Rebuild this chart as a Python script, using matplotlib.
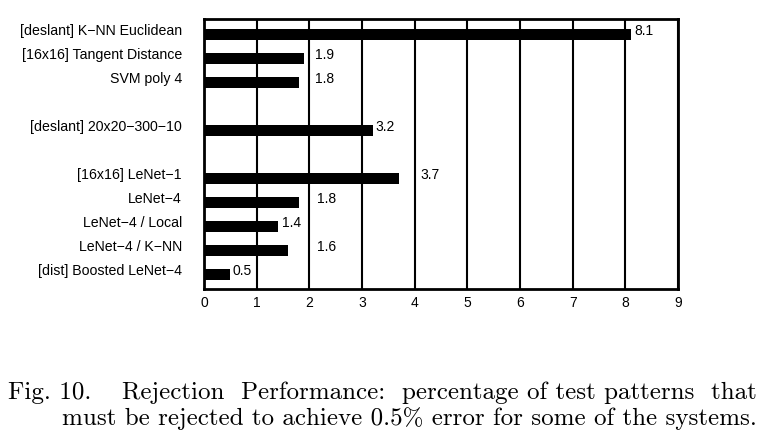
import matplotlib
matplotlib.use('Agg')
import matplotlib.pyplot as plt
import numpy as np

# Data
systems = ['[deslant] K\u2212NN Euclidean', '[16x16] Tangent Distance', 'SVM poly 4',
           '[deslant] 20x20\u2212300\u221210',
           '[16x16] LeNet\u22121', 'LeNet\u22124', 'LeNet\u22124 / Local',
           'LeNet\u22124 / K\u2212NN', '[dist] Boosted LeNet\u22124']
rejection = [8.1, 1.9, 1.8, 3.2, 3.7, 1.8, 1.4, 1.6, 0.5]
value_text = ['8.1', '1.9', '1.8', '3.2', '3.7', '1.8', '1.4', '1.6', '0.5']
slots = [0, 1, 2, 4, 6, 7, 8, 9, 10]          # row slots, gaps between groups
label_x = [8.17, 2.1, 2.1, 3.25, 4.1, 2.15, 1.48, 2.15, 0.55]  # where the numbers sit

plt.rcParams['font.family'] = ['Liberation Sans', 'DejaVu Sans']

fig = plt.figure(figsize=(7.71, 4.42), dpi=100)
ax = fig.add_axes([204/771, 1 - 289/442, 474/771, 270/442])

ax.barh(slots, rejection, height=0.48, color='black', zorder=3)
for s, lx, t in zip(slots, label_x, value_text):
    ax.text(lx, s - 0.15, t, va='center', ha='left', fontsize=10, zorder=4)

# row labels, sitting a little above the bar centres
for s, name in zip(slots, systems):
    ax.annotate(name, xy=(0, s), xycoords=('axes fraction', 'data'),
                xytext=(-16, 2.5), textcoords='offset points',
                ha='right', va='center', fontsize=10.2)

ax.set_xlim(0, 9)
ax.set_ylim(10.6, -0.65)
ax.set_xticks(range(10))
ax.set_yticks([])
ax.tick_params(axis='x', length=0, pad=5, labelsize=10)
ax.grid(axis='x', color='black', linewidth=1.5, zorder=1)
for sp in ax.spines.values():
    sp.set_linewidth(2)

# caption (serif, like the paper)
cap = dict(fontsize=18, family=['cmr10', 'DejaVu Serif'], va='center')
fig.text(8/771, 1 - 393/442, 'Fig. 10.', ha='left', **cap)
fig.text(757/771, 1 - 393/442, 'Rejection  Performance:  percentage of test patterns  that',
         ha='right', **cap)
fig.text(757/771, 1 - 419/442, 'must be rejected to achieve 0.5% error for some of the systems.',
         ha='right', **cap)

fig.savefig('out.png', dpi=100)
